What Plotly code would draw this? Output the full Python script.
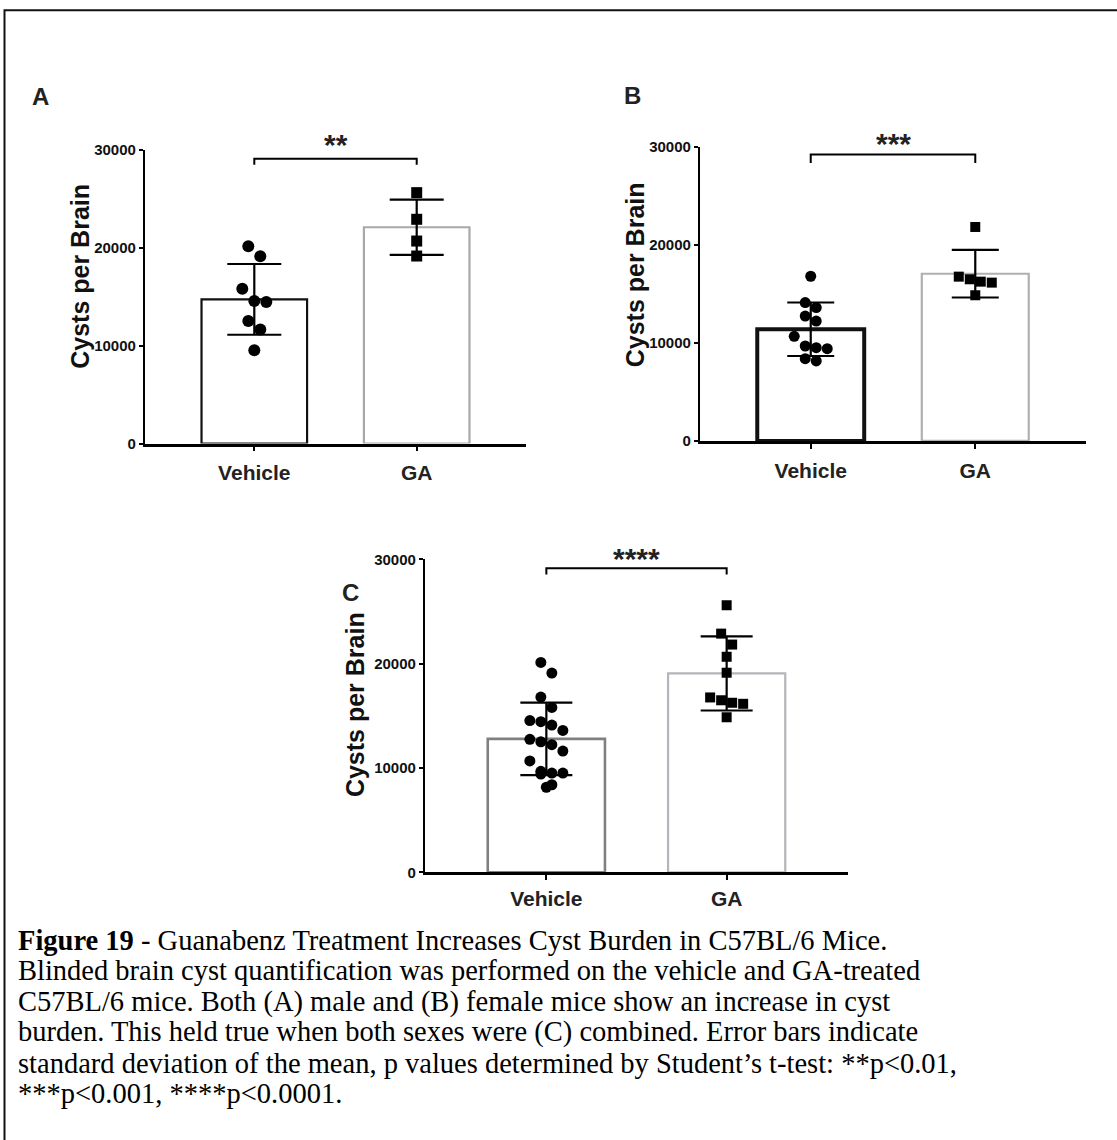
import numpy as np
import plotly.graph_objects as go

W, H = 1117, 1140

# ---------------- data ----------------
categories = ["Vehicle", "GA"]
male_vehicle = [20130, 19110, 15810, 14450, 14550, 12510, 11630, 9520]
male_ga = [25610, 22890, 20670, 19140]
female_vehicle = [16810, 14120, 13610, 12750, 12240, 10680, 9690, 9420, 9520, 8400, 8160]
female_ga = [21840, 16500, 16260, 16160, 16770, 14870]
combined_vehicle = male_vehicle + female_vehicle
combined_ga = male_ga + female_ga
y_ticks = [0, 10000, 20000, 30000]
significance = ["**", "***", "****"]
panel_letters = ["A", "B", "C"]
y_title = "Cysts per Brain"

caption_lines = [
    "<b>Figure 19</b> - Guanabenz Treatment Increases Cyst Burden in C57BL/6 Mice.",
    "Blinded brain cyst quantification was performed on the vehicle and GA-treated",
    "C57BL/6 mice. Both (A) male and (B) female mice show an increase in cyst",
    "burden. This held true when both sexes were (C) combined. Error bars indicate",
    "standard deviation of the mean, p values determined by Student\u2019s t-test: **p&lt;0.01,",
    "***p&lt;0.001, ****p&lt;0.0001.",
]

# ---------------- layout / style ----------------
FONT = "Liberation Sans, Arial, sans-serif"
SERIF = "Liberation Serif, Times New Roman, serif"

# the page is shown slightly compressed vertically with a small top offset;
# target pixel rows are converted to figure rows with this correction
V_SCALE, V_OFF = 0.9855, 8.6


def px_x(px):
    return px / W


def px_y(px):
    return 1 - ((px - V_OFF) / V_SCALE) / H


panels = [
    dict(data=(male_vehicle, male_ga), px_x=(145, 526), px_y=(149.3, 443.3),
         bar_line=("#111111", "#a8a8a8"), bar_lw=(2.2, 2.2), cap=27, dot=12, sq=11,
         letter_xy=(40, 96.5), title_xy=(80, 276.5), bracket=(0.949, 0.969), star_y=144,
         xlab_standoff=4),
    dict(data=(female_vehicle, female_ga), px_x=(700, 1086), px_y=(146.7, 440.7),
         bar_line=("#111111", "#b0b0b0"), bar_lw=(4.0, 2.2), cap=23.5, dot=11, sq=10,
         letter_xy=(632, 95), title_xy=(635, 275), bracket=(0.946, 0.975), star_y=143,
         xlab_standoff=4),
    dict(data=(combined_vehicle, combined_ga), px_x=(425, 848), px_y=(559.3, 872.3),
         bar_line=("#808080", "#b4b4ba"), bar_lw=(2.6, 2.2), cap=26, dot=11, sq=10,
         letter_xy=(350, 592), title_xy=(355, 705), bracket=(0.952, 0.972), star_y=558,
         xlab_standoff=1),
]
X_RANGE = [-0.673, 1.673]
BAR_W = 0.65


def swarm_offsets(values, d_px, px_per_val, px_per_cat, row_factor=1.15):
    """Simple column-scatter layout: group close values in rows, centre each row."""
    n = len(values)
    order = sorted(range(n), key=lambda i: -values[i])
    rows, cur = [], [order[0]]
    for i in order[1:]:
        if (values[cur[0]] - values[i]) * px_per_val < row_factor * d_px:
            cur.append(i)
        else:
            rows.append(cur)
            cur = [i]
    rows.append(cur)
    off = [0.0] * n
    for row in rows:
        m = len(row)
        for k, i in enumerate(row):
            off[i] = (k - (m - 1) / 2) * d_px / px_per_cat
    return off


fig = go.Figure()
layout_axes = {}
annotations = []
shapes = []

for idx, p in enumerate(panels):
    s = "" if idx == 0 else str(idx + 1)
    xa, ya = "x" + s, "y" + s
    vals_v, vals_g = p["data"]
    means = [float(np.mean(vals_v)), float(np.mean(vals_g))]
    sds = [float(np.std(vals_v, ddof=1)), float(np.std(vals_g, ddof=1))]

    x0, x1 = p["px_x"]
    yt, yb = p["px_y"]
    px_per_cat = (x1 - x0) / (X_RANGE[1] - X_RANGE[0])
    px_per_val = (yb - yt) / (y_ticks[-1] - y_ticks[0])

    fig.add_trace(go.Bar(
        x=[0, 1], y=means, width=BAR_W, xaxis=xa, yaxis=ya, showlegend=False,
        marker=dict(color="white", line=dict(color=list(p["bar_line"]), width=list(p["bar_lw"]))),
        error_y=dict(type="data", array=sds, visible=True, color="black",
                     thickness=2.2, width=p["cap"]),
    ))
    ov = swarm_offsets(vals_v, p["dot"], px_per_val, px_per_cat)
    og = swarm_offsets(vals_g, p["sq"] + 1, px_per_val, px_per_cat)
    fig.add_trace(go.Scatter(
        x=[0 + o for o in ov], y=vals_v, mode="markers", xaxis=xa, yaxis=ya,
        showlegend=False, cliponaxis=False,
        marker=dict(symbol="circle", size=p["dot"], color="black", line=dict(width=0)),
    ))
    fig.add_trace(go.Scatter(
        x=[1 + o for o in og], y=vals_g, mode="markers", xaxis=xa, yaxis=ya,
        showlegend=False, cliponaxis=False,
        marker=dict(symbol="square", size=p["sq"], color="black", line=dict(width=0)),
    ))

    layout_axes["xaxis" + s] = dict(
        domain=[px_x(x0), px_x(x1)], range=X_RANGE, anchor=ya,
        tickvals=[0, 1], ticktext=categories,
        showline=True, linecolor="black", linewidth=2.5,
        ticks="outside", ticklen=5, tickwidth=2, tickcolor="black",
        tickfont=dict(family=FONT, size=21, color="#222222", weight="bold"),
        ticklabelstandoff=p["xlab_standoff"],
        showgrid=False, zeroline=False, fixedrange=True,
    )
    layout_axes["yaxis" + s] = dict(
        domain=[px_y(yb), px_y(yt)], range=[y_ticks[0], y_ticks[-1]], anchor=xa,
        tickvals=y_ticks, tickformat="d",
        showline=True, linecolor="black", linewidth=2.2,
        ticks="outside", ticklen=4, tickwidth=2, tickcolor="black",
        tickfont=dict(family=FONT, size=15, color="#111111", weight="bold"),
        showgrid=False, zeroline=False, fixedrange=True,
    )

    # significance bracket
    b_lo, b_hi = p["bracket"]
    shapes.append(dict(
        type="path", xref=xa, yref=ya + " domain",
        path=f"M 0,{b_lo} L 0,{b_hi} L 1,{b_hi} L 1,{b_lo}",
        line=dict(color="black", width=2),
    ))
    annotations.append(dict(
        x=px_x(x0 + px_per_cat * (0.5 - X_RANGE[0])), y=px_y(p["star_y"]),
        xref="paper", yref="paper", text=significance[idx], showarrow=False,
        xanchor="center", yanchor="middle",
        font=dict(family=FONT, size=30, color="#222222", weight="bold"),
    ))
    # panel letter
    lx, ly = p["letter_xy"]
    annotations.append(dict(
        x=px_x(lx), y=px_y(ly), xref="paper", yref="paper", text=panel_letters[idx],
        showarrow=False, xanchor="center", yanchor="middle",
        font=dict(family=FONT, size=24, color="#222222", weight="bold"),
    ))
    # y-axis title
    tx, ty = p["title_xy"]
    annotations.append(dict(
        x=px_x(tx), y=px_y(ty), xref="paper", yref="paper", text=y_title,
        showarrow=False, textangle=-90, xanchor="center", yanchor="middle",
        font=dict(family=FONT, size=25, color="#111111", weight="bold"),
    ))

# caption
cap_y0, cap_dy = 940, 30.8
for k, line in enumerate(caption_lines):
    annotations.append(dict(
        x=px_x(16), y=px_y(cap_y0 + k * cap_dy), xref="paper", yref="paper",
        text=line, showarrow=False, xanchor="left", yanchor="middle", align="left",
        font=dict(family=SERIF, size=28.5, color="black"),
    ))

# outer frame
shapes.append(dict(type="rect", xref="paper", yref="paper",
                   x0=px_x(4.5), x1=1.02, y0=-0.02, y1=1 - 1.2 / H,
                   line=dict(color="#111111", width=2), fillcolor="rgba(0,0,0,0)"))

fig.update_layout(
    width=W, height=H, margin=dict(l=0, r=0, t=0, b=0),
    paper_bgcolor="white", plot_bgcolor="white",
    showlegend=False, annotations=annotations, shapes=shapes,
    **layout_axes,
)

fig.write_html("out.html")
